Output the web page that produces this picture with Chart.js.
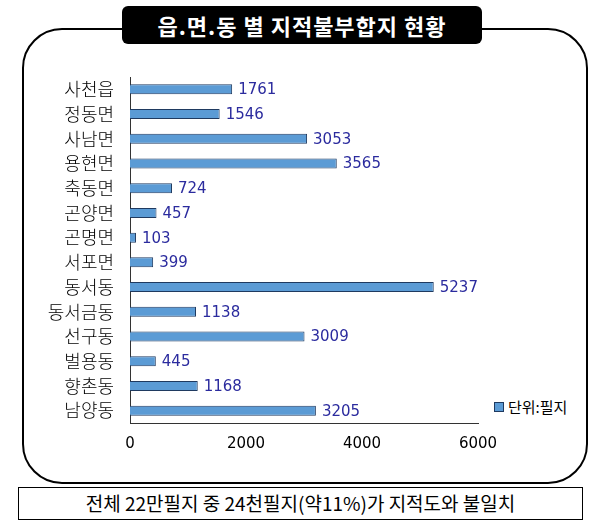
<!DOCTYPE html>
<html><head><meta charset="utf-8">
<script src="https://cdn.jsdelivr.net/npm/chart.js@4"></script>
<style>
body{margin:0;width:600px;height:525px;background:#fff;position:relative;overflow:hidden;font-family:"Noto Sans CJK KR",sans-serif}
#frame{position:absolute;left:22px;top:28px;width:566px;height:456px;border:2px solid #000;border-radius:40px;box-sizing:border-box}
#title{position:absolute;left:122px;top:6px;width:360px;height:38px;background:#000;color:#fff;border-radius:6px;font-size:22px;font-weight:bold;text-align:center;line-height:38px;letter-spacing:1px}
#foot{position:absolute;left:18px;top:487px;width:565px;height:33px;border:1.5px solid #000;box-sizing:border-box;font-size:19px;text-align:center;line-height:30px}
#legend{position:absolute;left:494px;top:396px;font-size:15px;display:flex;align-items:center}
#legend span{display:inline-block;width:8px;height:8px;background:#5b9bd5;border:1px solid #1f3a60;margin-right:4px}
canvas{position:absolute;left:0;top:0}
</style></head><body>
<div id="frame"></div>
<div id="title">읍.면.동 별 지적불부합지 현황</div>
<div id="foot">전체 22만필지 중 24천필지(약11%)가 지적도와 불일치</div>
<div id="legend"><span></span>단위:필지</div>
<canvas id="chart" width="600" height="525"></canvas>
<script>
const categories = ['사천읍','정동면','사남면','용현면','축동면','곤양면','곤명면','서포면','동서동','동서금동','선구동','벌용동','향촌동','남양동'];
const values = [1761,1546,3053,3565,724,457,103,399,5237,1138,3009,445,1168,3205];
const xTicks = [0,2000,4000,6000];

const valueLabels = {
    id: 'valueLabels',
    afterDatasetsDraw(chart) {
        const c = chart.ctx;
        c.save();
        c.fillStyle = '#2b2b9e';
        c.font = '15px "DejaVu Sans", sans-serif';
        c.textBaseline = 'middle';
        chart.getDatasetMeta(0).data.forEach((bar, i) => {
            c.fillText(values[i], bar.x + 6, bar.y + 1);
        });
        c.restore();
    }
};

new Chart(document.getElementById('chart'), {
    type: 'bar',
    data: {
        labels: categories,
        datasets: [{
            label: '단위:필지',
            data: values,
            backgroundColor: '#5b9bd5',
            borderColor: '#1f3a60',
            borderWidth: 1,
            categoryPercentage: 0.9,
            barPercentage: 0.45
        }]
    },
    options: {
        indexAxis: 'y',
        responsive: false,
        animation: false,
        layout: { padding: { top: 77, bottom: 60, right: 122, left: 0 } },
        plugins: { legend: { display: false }, tooltip: { enabled: false } },
        scales: {
            x: {
                min: 0, max: 6000,
                afterBuildTicks: s => { s.ticks = xTicks.map(v => ({ value: v })); },
                grid: { display: false, drawTicks: false },
                border: { color: '#333' },
                ticks: { color: '#000', font: { size: 15, family: 'DejaVu Sans' }, padding: 12, callback: v => String(v) }
            },
            y: {
                afterFit: s => { s.width = 130; },
                grid: { display: false, offset: true },
                border: { color: '#333' },
                ticks: { color: '#000', autoSkip: false, font: { size: 18, family: 'Noto Sans CJK KR', weight: '300' }, padding: 8 }
            }
        }
    },
    plugins: [valueLabels]
});
</script>
</body></html>
